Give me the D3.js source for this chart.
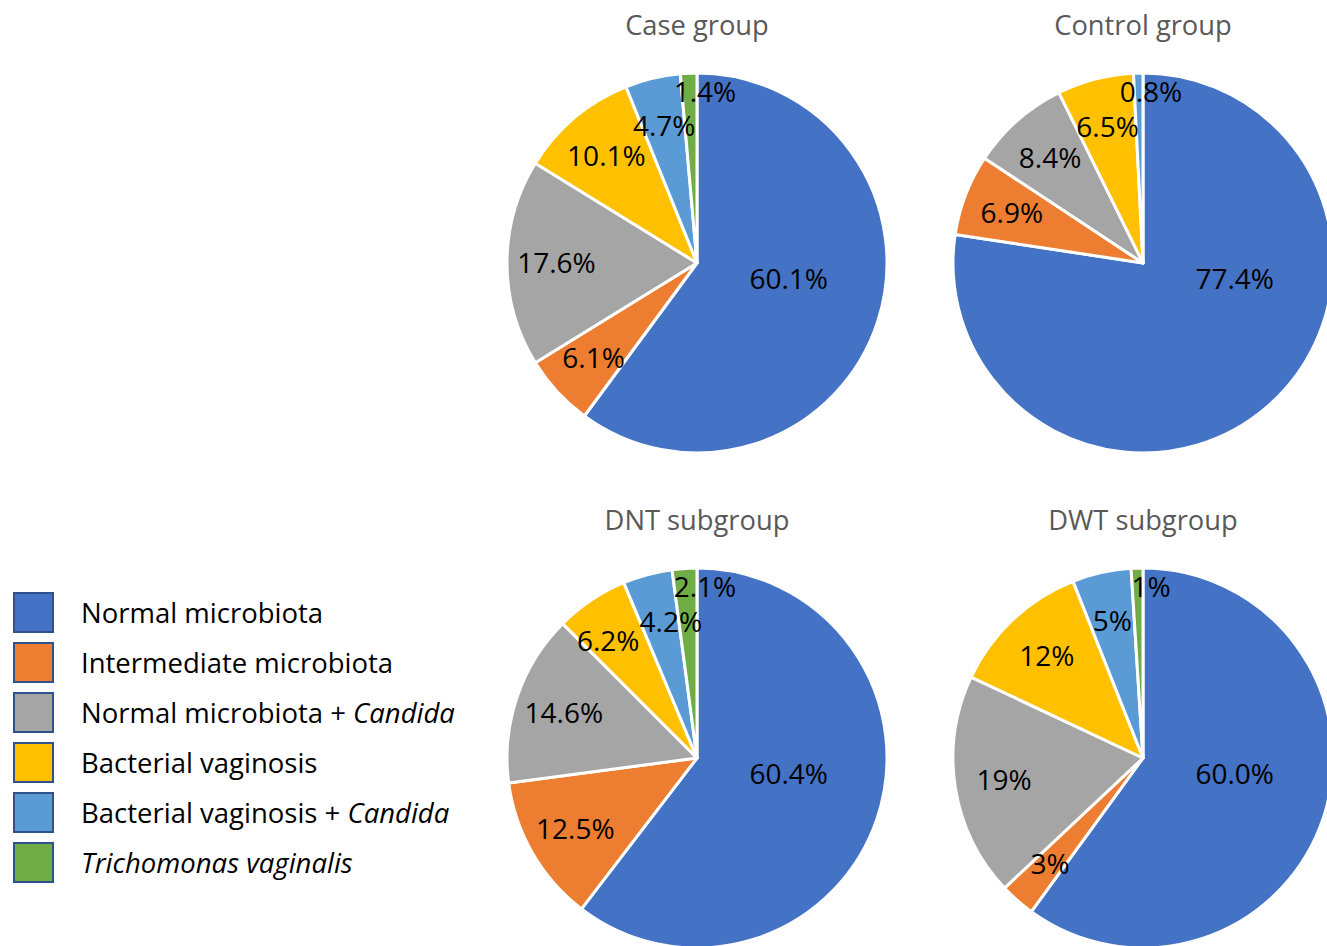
<!DOCTYPE html>
<html>
<head>
<meta charset="utf-8">
<script src="https://cdn.jsdelivr.net/npm/d3@7"></script>
<style>
  body { margin: 0; background: #fff; }
  svg { display: block; font-family: "Open Sans", Lato, sans-serif; }
  .pie-title { fill: #595959; font-size: 27.3px; }
  .slice-label { fill: #000; font-size: 28px; }
  .legend-text { fill: #000; font-size: 27.5px; }
</style>
</head>
<body>
<script>
// legend categories (text between * is italic)
var categories = [
    "Normal microbiota",
    "Intermediate microbiota",
    "Normal microbiota + *Candida*",
    "Bacterial vaginosis",
    "Bacterial vaginosis + *Candida*",
    "*Trichomonas vaginalis*"
];
var colors = ["#4472C4", "#ED7D31", "#A5A5A5", "#FFC000", "#5B9BD5", "#70AD47"];

var groupTitles = ["Case group", "Control group", "DNT subgroup", "DWT subgroup"];

// percentages, same order as categories
var caseValues    = [60.1, 6.1, 17.6, 10.1, 4.7, 1.4];
var controlValues = [77.4, 6.9, 8.4, 6.5, 0.8, 0];
var dntValues     = [60.4, 12.5, 14.6, 6.2, 4.2, 2.1];
var dwtValues     = [60.0, 3, 19, 12, 5, 1];

// labels as printed on the chart
var caseLabels    = ["60.1%", "6.1%", "17.6%", "10.1%", "4.7%", "1.4%"];
var controlLabels = ["77.4%", "6.9%", "8.4%", "6.5%", "0.8%", ""];
var dntLabels     = ["60.4%", "12.5%", "14.6%", "6.2%", "4.2%", "2.1%"];
var dwtLabels     = ["60.0%", "3%", "19%", "12%", "5%", "1%"];

function init() {
    var w = 1327;
    var h = 946;
    var r = 190;

    var groups = [
        {title: groupTitles[0], values: caseValues, labels: caseLabels, col: 0, row: 0},
        {title: groupTitles[1], values: controlValues, labels: controlLabels, col: 1, row: 0},
        {title: groupTitles[2], values: dntValues, labels: dntLabels, col: 0, row: 1},
        {title: groupTitles[3], values: dwtValues, labels: dwtLabels, col: 1, row: 1}
    ];

    var svg = d3.select("body")
        .append("svg")
        .attr("width", w)
        .attr("height", h);

    // pie centres
    var xCol = d3.scaleOrdinal().domain([0, 1]).range([697, 1143]);
    var yRow = d3.scaleOrdinal().domain([0, 1]).range([263, 758]);

    var pie = d3.pie().sort(null).value(function(d) { return d; });
    var arc = d3.arc().innerRadius(0).outerRadius(r);

    groups.forEach(function(g) {
        var cx = xCol(g.col), cy = yRow(g.row);
        var gg = svg.append("g").attr("transform", "translate(" + cx + "," + cy + ")");

        svg.append("text")
            .attr("class", "pie-title")
            .attr("x", cx)
            .attr("y", cy - r - 38)
            .attr("text-anchor", "middle")
            .text(g.title);

        var arcs = pie(g.values).filter(function(d) { return d.value > 0; });
        var maxV = d3.max(g.values);

        gg.selectAll("path")
            .data(arcs)
            .enter().append("path")
            .attr("d", arc)
            .attr("fill", function(d) { return colors[d.index]; })
            .attr("stroke", "#fff")
            .attr("stroke-width", 3)
            .attr("stroke-linejoin", "round");

        // label placement, roughly like Excel's best fit
        arcs.forEach(function(d) {
            var a = (d.startAngle + d.endAngle) / 2;
            var rr = 0.74 * r;
            var dx = 0;
            if (d.value === maxV) {
                a = Math.min(a, 100 * Math.PI / 180);
                rr = 0.49 * r;
            } else if (d.value < 3) {
                a = d.endAngle;
                rr = 0.9 * r;
                dx = 8;
            }
            d.lx = Math.sin(a) * rr + dx;
            d.ly = -Math.cos(a) * rr;
        });

        var labels = gg.selectAll("text")
            .data(arcs)
            .enter().append("text")
            .attr("class", "slice-label")
            .attr("text-anchor", "middle")
            .attr("dy", "0.36em")
            .attr("x", function(d) { return d.lx; })
            .attr("y", function(d) { return d.ly; })
            .text(function(d) { return g.labels[d.index]; });

        // push apart labels that sit on top of each other
        var nodes = labels.nodes();
        for (var i = 0; i < nodes.length; i++) {
            for (var j = i + 1; j < nodes.length; j++) {
                var di = arcs[i], dj = arcs[j];
                if (Math.abs(di.ly - dj.ly) > 20) continue;
                var wi = nodes[i].getComputedTextLength(), wj = nodes[j].getComputedTextLength();
                var left = di.lx < dj.lx ? i : j, right = left === i ? j : i;
                var gap = Math.abs(di.lx - dj.lx) - (wi + wj) / 2;
                if (gap < 0) {
                    arcs[left].lx += gap / 2;
                    arcs[right].lx -= gap / 2;
                    d3.select(nodes[left]).attr("x", arcs[left].lx);
                    d3.select(nodes[right]).attr("x", arcs[right].lx);
                }
            }
        }
    });

    // legend
    var yLeg = d3.scaleBand().domain(d3.range(categories.length)).range([588, 888]);
    var leg = svg.append("g");
    categories.forEach(function(c, i) {
        var y = yLeg(i) + yLeg.bandwidth() / 2;
        leg.append("rect")
            .attr("x", 14)
            .attr("y", y - 20)
            .attr("width", 39)
            .attr("height", 39)
            .attr("fill", colors[i])
            .attr("stroke", "#2F528F")
            .attr("stroke-width", 2);
        var t = leg.append("text")
            .attr("class", "legend-text")
            .attr("x", 81)
            .attr("y", y)
            .attr("dy", "0.35em");
        c.split("*").forEach(function(part, k) {
            if (part === "") return;
            t.append("tspan")
                .attr("font-style", k % 2 === 1 ? "italic" : "normal")
                .text(part);
        });
    });
}

window.onload = init;
</script>
</body>
</html>
